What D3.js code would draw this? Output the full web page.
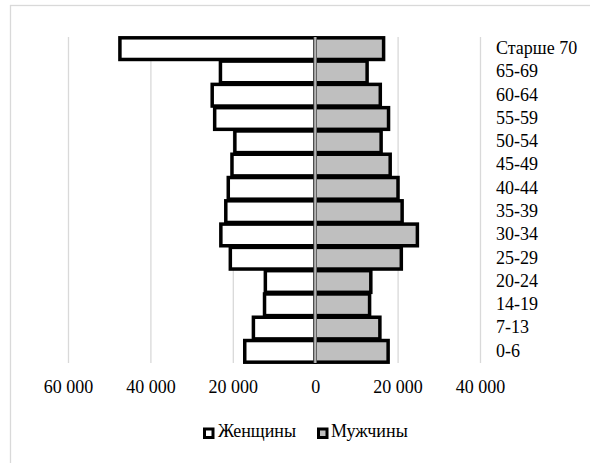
<!DOCTYPE html>
<html>
<head>
<meta charset="utf-8">
<script src="https://cdn.jsdelivr.net/npm/d3@7"></script>
<style>
  html, body { margin: 0; padding: 0; background: #fff; }
  svg { display: block; }
  text { font-family: "Liberation Serif", "Times New Roman", serif; fill: #000; }
</style>
</head>
<body>
<svg id="chart" width="590" height="463"></svg>
<script>
const categories = ["Старше 70", "65-69", "60-64", "55-59", "50-54", "45-49", "40-44", "35-39", "30-34", "25-29", "20-24", "14-19", "7-13", "0-6"];
const women = [47400, 23000, 25000, 24400, 19500, 20200, 21100, 21700, 22900, 20600, 12100, 12300, 15000, 17100];
const men = [16600, 12600, 15800, 17800, 16000, 18200, 20100, 21100, 24800, 20900, 13500, 13200, 15700, 17700];
const tickValues = [-60000, -40000, -20000, 0, 20000, 40000];
const seriesNames = ["Женщины", "Мужчины"];

const svg = d3.select("#chart");
const fontSize = 18;

// frame
svg.append("rect")
  .attr("x", 10.5).attr("y", 5.5)
  .attr("width", 600).attr("height", 500)
  .attr("fill", "#fff").attr("stroke", "#d9d9d9").attr("stroke-width", 1.3);

const x = d3.scaleLinear().domain([-60000, 40000]).range([68, 480]);
const y = d3.scaleBand().domain(categories).range([37, 363]).paddingInner(0.07).paddingOuter(0.035);
const plotTop = 37, plotBottom = 363;

// gridlines
const grid = svg.append("g")
  .attr("transform", `translate(0,${plotBottom})`)
  .call(d3.axisBottom(x).tickValues(tickValues).tickSize(-(plotBottom - plotTop)).tickFormat(""));
grid.select(".domain").remove();
grid.selectAll(".tick line").attr("stroke", "#d9d9d9").attr("stroke-width", 1.3);

// bars
const fmt = v => d3.format(",")(Math.abs(v)).replace(/,/g, " ");
const stroke = 3.5;
svg.append("g").selectAll("rect")
  .data(categories.map((c, i) => ({c, v: women[i]})))
  .join("rect")
  .attr("x", d => x(-d.v)).attr("y", d => y(d.c))
  .attr("width", d => x(0) - x(-d.v)).attr("height", y.bandwidth())
  .attr("fill", "#ffffff").attr("stroke", "#000").attr("stroke-width", stroke);

svg.append("g").selectAll("rect")
  .data(categories.map((c, i) => ({c, v: men[i]})))
  .join("rect")
  .attr("x", x(0)).attr("y", d => y(d.c))
  .attr("width", d => x(d.v) - x(0)).attr("height", y.bandwidth())
  .attr("fill", "#bfbfbf").attr("stroke", "#000").attr("stroke-width", stroke);

// zero axis line
svg.append("line")
  .attr("x1", x(0)).attr("x2", x(0)).attr("y1", plotTop).attr("y2", plotBottom)
  .attr("stroke", "#8a8a8a").attr("stroke-width", 3);
svg.append("line")
  .attr("x1", x(0)).attr("x2", x(0)).attr("y1", plotTop).attr("y2", plotBottom)
  .attr("stroke", "#c8c8c8").attr("stroke-width", 1);

// value tick labels
const xAxis = svg.append("g")
  .call(d3.axisBottom(x).tickValues(tickValues).tickSize(0).tickFormat(fmt));
xAxis.select(".domain").remove();
xAxis.selectAll("text")
  .attr("y", 393).attr("dy", 0)
  .style("font-size", fontSize + "px")
  .style("font-family", "'Liberation Serif', 'Times New Roman', serif")
  .attr("fill", "#000");

// category labels
const yAxis = svg.append("g")
  .attr("transform", "translate(496,0)")
  .call(d3.axisRight(y).tickSize(0).tickPadding(0));
yAxis.select(".domain").remove();
yAxis.selectAll("text")
  .attr("dy", "0.3em")
  .style("font-size", fontSize + "px")
  .style("font-family", "'Liberation Serif', 'Times New Roman', serif")
  .attr("fill", "#000");

// legend
const legend = [
  {name: seriesNames[0], fill: "#ffffff", mx: 204.5, tx: 218},
  {name: seriesNames[1], fill: "#bfbfbf", mx: 318.5, tx: 331}
];
const lg = svg.append("g").selectAll("g").data(legend).join("g");
lg.append("rect")
  .attr("x", d => d.mx).attr("y", 429)
  .attr("width", 8.5).attr("height", 8.5)
  .attr("fill", d => d.fill).attr("stroke", "#000").attr("stroke-width", 3);
lg.append("text")
  .attr("x", d => d.tx).attr("y", 437)
  .style("font-size", fontSize + "px")
  .text(d => d.name);
</script>
</body>
</html>
